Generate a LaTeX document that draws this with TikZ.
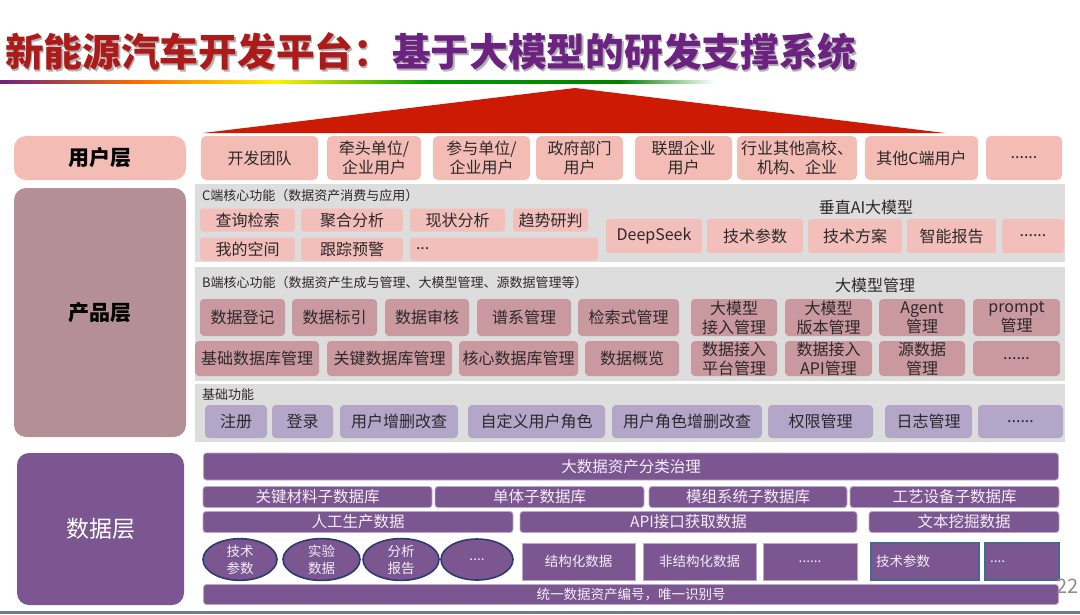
\documentclass[tikz,border=0pt]{standalone}
\usepackage{fontspec}
\setmainfont{Noto Sans CJK SC}
\usepackage{xcolor}
\usetikzlibrary{positioning,shapes.geometric}
\definecolor{ink}{RGB}{45,40,42}
\definecolor{titlered}{RGB}{172,26,26}
\definecolor{titlepurple}{RGB}{108,34,128}
\definecolor{trired}{RGB}{204,26,4}
\definecolor{userpink}{RGB}{243,188,181}
\definecolor{cpink}{RGB}{242,191,187}
\definecolor{brose}{RGB}{201,153,159}
\definecolor{prodlab}{RGB}{180,143,151}
\definecolor{lav}{RGB}{180,166,201}
\definecolor{panelgray}{RGB}{221,221,221}
\definecolor{dpurple}{RGB}{123,86,145}
\definecolor{dline}{RGB}{186,170,200}
\definecolor{dnavy}{RGB}{44,60,108}
\definecolor{dblue}{RGB}{70,104,150}
\definecolor{dtext}{RGB}{244,238,247}
\definecolor{pagegray}{RGB}{140,140,140}
\definecolor{edgeline}{RGB}{110,124,146}
\tikzset{
  sz/.style 2 args={minimum width=#1pt, minimum height=#2pt},
  ubox/.style={fill=userpink, rounded corners=5pt, align=center, inner sep=0pt,
    text=ink, font=\fontsize{16}{19}\selectfont},
  layer/.style={rounded corners=12pt, align=center, inner sep=0pt,
    font=\fontsize{21}{24}\selectfont\bfseries, text=black},
  panel/.style={fill=panelgray, inner sep=0pt},
  ptitle/.style={anchor=west, inner sep=0pt, text=ink, font=\fontsize{13}{15}\selectfont},
  phead/.style={inner sep=0pt, text=ink, font=\fontsize{16}{18}\selectfont},
  cbox/.style={fill=cpink, rounded corners=3pt, align=center, inner sep=0pt,
    text=ink, font=\fontsize{16}{18}\selectfont},
  bbox/.style={fill=brose, rounded corners=4pt, align=center, inner sep=0pt,
    text=ink, font=\fontsize{16}{19}\selectfont},
  jbox/.style={fill=lav, rounded corners=4pt, align=center, inner sep=0pt,
    text=ink, font=\fontsize{16}{18}\selectfont},
  dbar/.style={fill=dpurple, draw=dline, line width=0.8pt, rounded corners=3pt,
    align=center, inner sep=0pt, text=dtext, font=\fontsize{15.5}{18}\selectfont},
  dcell/.style={fill=dpurple, draw=dline, line width=0.8pt, align=center,
    inner sep=0pt, text=dtext, font=\fontsize{13.5}{16}\selectfont},
  dell/.style={ellipse, fill=dpurple, draw=dnavy, line width=1.6pt, align=center,
    inner sep=0pt, text=dtext, font=\fontsize{13.5}{17}\selectfont},
}
\begin{document}
\begin{tikzpicture}[x=1pt,y=-1pt]
  \useasboundingbox (0,0) rectangle (1080,614);
  \node[anchor=west, inner sep=0pt, text=black!30, font=\fontsize{38.7}{40}\selectfont\bfseries]
    (titleshadow) at (6.5,53.5) {新能源汽车开发平台：基于大模型的研发支撑系统};
  \node[anchor=west, inner sep=0pt, font=\fontsize{38.7}{40}\selectfont\bfseries]
    (title) at (5,52) {\textcolor{titlered}{新能源汽车开发平台：}\textcolor{titlepurple}{基于大模型的研发支撑系统}};
  \shade[left color=titlepurple, right color=orange!85!red] (0,80) rectangle (140,83);
  \shade[left color=orange!85!red, right color=yellow!90!orange] (140,80) rectangle (275,83);
  \shade[left color=yellow!90!orange, right color=green!60!black] (275,80) rectangle (430,83);
  \shade[left color=green!60!black, right color=green!50!black] (430,80) rectangle (620,83);
  \shade[left color=green!50!black, right color=white] (620,80) rectangle (715,83);
  \fill[trired] (575,88) -- (945,133) -- (203,133) -- cycle;

  \node[layer, fill=userpink, sz={172}{44}] (ulayer) at (100,158) {用户层};
  \node[ubox, sz={117}{44}] (u1) at (259.5,158) {开发团队};
  \node[ubox, sz={94}{44}] (u2) at (374,158) {牵头单位/\\企业用户};
  \node[ubox, sz={97}{44}] (u3) at (481.5,158) {参与单位/\\企业用户};
  \node[ubox, sz={87}{44}] (u4) at (579.5,158) {政府部门\\用户};
  \node[ubox, sz={97}{44}] (u5) at (683.5,158) {联盟企业\\用户};
  \node[ubox, sz={120}{44}] (u6) at (797,158) {行业其他高校、\\机构、企业};
  \node[ubox, sz={113}{44}] (u7) at (921.5,158) {其他C端用户};
  \node[ubox, sz={76}{44}] (u8) at (1024,158) {......};

  \node[layer, fill=prodlab, sz={172}{249}] (player) at (100,312.5) {产品层};
  \node[panel, sz={870}{78}] (cpanel) at (630,223) {};
  \node[ptitle] (ctitle) at (202,196) {C端核心功能（数据资产消费与应用）};
  \node[phead] (chead) at (866,207) {垂直AI大模型};
  \node[cbox, sz={95}{23}] (c1) at (247.5,220) {查询检索};
  \node[cbox, sz={102}{23}] (c2) at (352,220) {聚合分析};
  \node[cbox, sz={95}{23}] (c3) at (457.5,220) {现状分析};
  \node[cbox, sz={75}{23}] (c4) at (550.5,220) {趋势研判};
  \node[cbox, sz={95}{23}] (c5) at (247.5,249) {我的空间};
  \node[cbox, sz={102}{23}] (c6) at (352,249) {跟踪预警};
  \node[cbox, sz={188}{23}, text width=176pt, align=left] (c7) at (504,249) {...};
  \node[cbox, sz={96}{34}] (v1) at (654,236) {DeepSeek};
  \node[cbox, sz={96}{34}] (v2) at (755,236) {技术参数};
  \node[cbox, sz={94}{34}] (v3) at (855,236) {技术方案};
  \node[cbox, sz={89}{34}] (v4) at (951.5,236) {智能报告};
  \node[cbox, sz={62}{34}] (v5) at (1033,236) {......};

  \node[panel, sz={870}{114}] (bpanel) at (630,324) {};
  \node[ptitle] (btitle) at (202,283) {B端核心功能（数据资产生成与管理、大模型管理、源数据管理等）};
  \node[phead] (bhead) at (875,285) {大模型管理};
  \node[bbox, sz={85}{37}] (b1) at (242.5,317.5) {数据登记};
  \node[bbox, sz={85}{37}] (b2) at (334.5,317.5) {数据标引};
  \node[bbox, sz={84}{37}] (b3) at (427,317.5) {数据审核};
  \node[bbox, sz={94}{37}] (b4) at (524,317.5) {谱系管理};
  \node[bbox, sz={101}{37}] (b5) at (628.5,317.5) {检索式管理};
  \node[bbox, sz={86}{37}] (b6) at (734,317.5) {大模型\\接入管理};
  \node[bbox, sz={87}{37}] (b7) at (828.5,317.5) {大模型\\版本管理};
  \node[bbox, sz={86}{37}] (b8) at (922,317.5) {Agent\\管理};
  \node[bbox, sz={87}{37}] (b9) at (1016.5,317.5) {prompt\\管理};
  \node[bbox, sz={124}{35}] (b10) at (257,358.5) {基础数据库管理};
  \node[bbox, sz={125}{35}] (b11) at (389.5,358.5) {关键数据库管理};
  \node[bbox, sz={119}{35}] (b12) at (518.5,358.5) {核心数据库管理};
  \node[bbox, sz={94}{35}] (b13) at (632,358.5) {数据概览};
  \node[bbox, sz={86}{35}] (b14) at (734,358.5) {数据接入\\平台管理};
  \node[bbox, sz={87}{35}] (b15) at (828.5,358.5) {数据接入\\API管理};
  \node[bbox, sz={86}{35}] (b16) at (922,358.5) {源数据\\管理};
  \node[bbox, sz={87}{35}] (b17) at (1016.5,358.5) {......};

  \node[panel, sz={870}{58}] (jpanel) at (630,413) {};
  \node[ptitle] (jtitle) at (202,395) {基础功能};
  \node[jbox, sz={62}{33}] (j1) at (236,421.5) {注册};
  \node[jbox, sz={61}{33}] (j2) at (302.5,421.5) {登录};
  \node[jbox, sz={118}{33}] (j3) at (399,421.5) {用户增删改查};
  \node[jbox, sz={137}{33}] (j4) at (536.5,421.5) {自定义用户角色};
  \node[jbox, sz={150}{33}] (j5) at (687,421.5) {用户角色增删改查};
  \node[jbox, sz={105}{33}] (j6) at (820.5,421.5) {权限管理};
  \node[jbox, sz={87}{33}] (j7) at (928.5,421.5) {日志管理};
  \node[jbox, sz={85}{33}] (j8) at (1020.5,421.5) {......};

  \node[layer, fill=dpurple, text=white, sz={167}{152},
    font=\fontsize{23}{26}\selectfont] (dlayer) at (100.5,529) {数据层};
  \node[dbar, sz={855}{27}] (r1) at (631,466.5) {大数据资产分类治理};
  \node[dbar, sz={229}{21}] (r21) at (317.5,497) {关键材料子数据库};
  \node[dbar, sz={209}{21}] (r22) at (539.5,497) {单体子数据库};
  \node[dbar, sz={198}{21}] (r23) at (748,497) {模组系统子数据库};
  \node[dbar, sz={209}{21}] (r24) at (954.5,497) {工艺设备子数据库};
  \node[dbar, sz={310}{21}] (r31) at (358,522) {人工生产数据};
  \node[dbar, sz={337}{21}] (r32) at (688.5,522) {API接口获取数据};
  \node[dbar, sz={190}{21}] (r33) at (964,522) {文本挖掘数据};
  \node[dell, sz={74}{41}] (e1) at (240,559.5) {技术\\参数};
  \node[dell, sz={77}{41}] (e2) at (321.5,559.5) {实验\\数据};
  \node[dell, sz={76}{41}] (e3) at (401,559.5) {分析\\报告};
  \node[dell, sz={72}{41}] (e4) at (477,559.5) {....};
  \node[dcell, sz={113}{37}] (s1) at (578.5,561.5) {结构化数据};
  \node[dcell, sz={113}{37}] (s2) at (699.5,561.5) {非结构化数据};
  \node[dcell, sz={94}{37}] (s3) at (810,561.5) {......};
  \node[dcell, draw=dblue, line width=1.4pt, sz={108}{37}, text width=98pt, align=left]
    (s4) at (925,561.5) {技术参数};
  \node[dcell, draw=dblue, line width=1.4pt, sz={74}{37}, text width=64pt, align=left]
    (s5) at (1022,561.5) {....};
  \node[dbar, sz={855}{20}, font=\fontsize{13.5}{16}\selectfont] (r5) at (631,594.5)
    {统一数据资产编号，唯一识别号};
  \node[anchor=west, inner sep=0pt, text=pagegray, font=\fontsize{20}{22}\selectfont]
    (pageno) at (1056,586) {22};
  \fill[edgeline] (0,611) rectangle (1080,614);
\end{tikzpicture}
\end{document}
